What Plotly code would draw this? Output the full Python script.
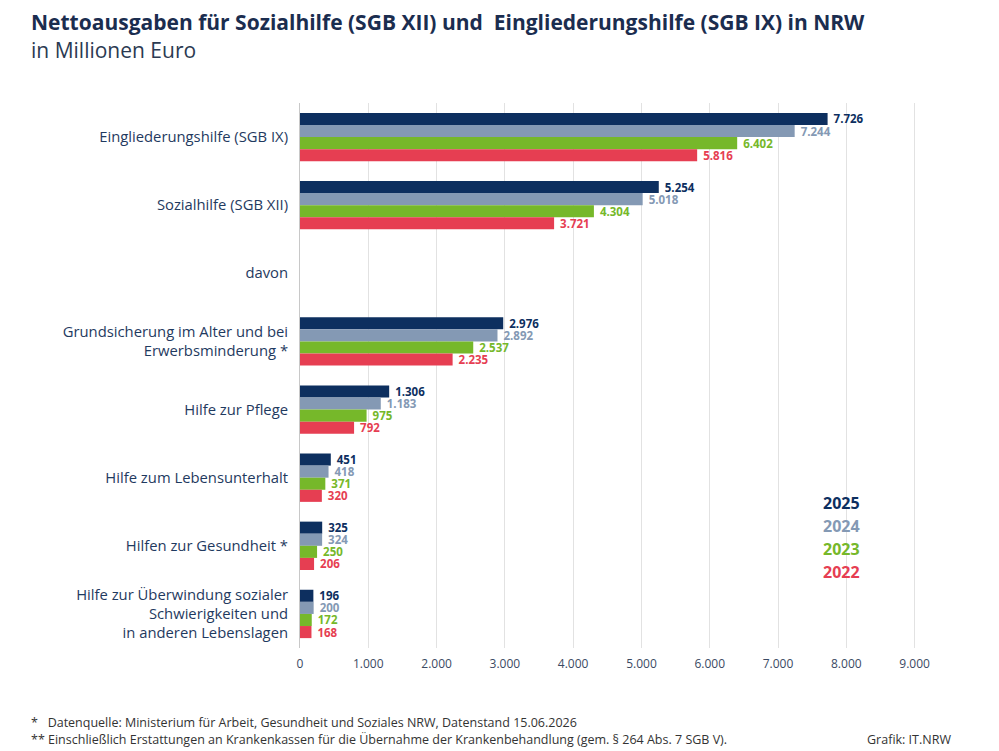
import plotly.graph_objects as go

categories = [
    "Eingliederungshilfe (SGB IX)",
    "Sozialhilfe (SGB XII)",
    "davon",
    "Grundsicherung im Alter und bei<br>Erwerbsminderung *",
    "Hilfe zur Pflege",
    "Hilfe zum Lebensunterhalt",
    "Hilfen zur Gesundheit *",
    "Hilfe zur Überwindung sozialer<br>Schwierigkeiten und<br>in anderen Lebenslagen",
]
years = ["2025", "2024", "2023", "2022"]
values_2025 = [7726, 5254, None, 2976, 1306, 451, 325, 196]
values_2024 = [7244, 5018, None, 2892, 1183, 418, 324, 200]
values_2023 = [6402, 4304, None, 2537, 975, 371, 250, 172]
values_2022 = [5816, 3721, None, 2235, 792, 320, 206, 168]
series = [values_2025, values_2024, values_2023, values_2022]
colors = ["#0d2f5f", "#8499b4", "#76b82a", "#e63e52"]
x_ticks = [0, 1000, 2000, 3000, 4000, 5000, 6000, 7000, 8000, 9000]


def de(v):
    return "" if v is None else f"{v:,}".replace(",", ".")


FONT = "Open Sans"
fig = go.Figure()
for yr, vals, col in zip(years, series, colors):
    fig.add_trace(go.Bar(
        y=categories, x=vals, orientation="h", name=yr,
        marker=dict(color=col, line=dict(width=0)),
        text=["" if v is None else "\u00a0" + de(v) for v in vals], textposition="outside",
        textfont=dict(family=FONT, size=11.5, color=col, weight="bold"),
        constraintext="none", cliponaxis=False,
        hoverinfo="skip",
    ))

# helpers: page pixel -> paper coords (plot area spans x 300..918, y 103..648 on the page)
def px(X):
    return (X - 300) / 618


def py(Y):
    return (648 - Y) / 545


for i, (yr, col) in enumerate(zip(years, colors)):
    fig.add_annotation(
        xref="paper", yref="paper", x=px(862), y=py(503 + 23 * i),
        text=f"<b>{yr}</b>", showarrow=False, xanchor="right", yanchor="middle",
        font=dict(family=FONT, size=16, color=col),
    )

fig.add_annotation(xref="paper", yref="paper", x=px(29), y=py(22),
                   text="<b>Nettoausgaben für Sozialhilfe (SGB XII) und  Eingliederungshilfe (SGB IX) in NRW</b>",
                   showarrow=False, xanchor="left", yanchor="middle",
                   font=dict(family=FONT, size=21, color="#1b2d4f"))
fig.add_annotation(xref="paper", yref="paper", x=px(29), y=py(50),
                   text="in Millionen Euro", showarrow=False, xanchor="left", yanchor="middle",
                   font=dict(family=FONT, size=21, color="#2b3a52"))
fig.add_annotation(xref="paper", yref="paper", x=px(29), y=py(722),
                   text="*   Datenquelle: Ministerium für Arbeit, Gesundheit und Soziales NRW, Datenstand 15.06.2026",
                   showarrow=False, xanchor="left", yanchor="middle",
                   font=dict(family=FONT, size=12.5, color="#333333"))
fig.add_annotation(xref="paper", yref="paper", x=px(29), y=py(739),
                   text="** Einschließlich Erstattungen an Krankenkassen für die Übernahme der Krankenbehandlung (gem. § 264 Abs. 7 SGB V).",
                   showarrow=False, xanchor="left", yanchor="middle",
                   font=dict(family=FONT, size=12.5, color="#333333"))
fig.add_annotation(xref="paper", yref="paper", x=px(953), y=py(739),
                   text="Grafik: IT.NRW", showarrow=False, xanchor="right", yanchor="middle",
                   font=dict(family=FONT, size=12.5, color="#333333"))

fig.update_layout(
    width=991, height=743,
    margin=dict(l=292, r=81, t=95, b=103),
    paper_bgcolor="white", plot_bgcolor="white",
    barmode="group", bargap=0.29, bargroupgap=0,
    showlegend=False,
    font=dict(family=FONT),
)
fig.update_xaxes(
    range=[0, 9050], tickvals=x_ticks, ticktext=[de(v) for v in x_ticks],
    showgrid=True, gridcolor="#e2e2e2", gridwidth=1, zeroline=False,
    tickfont=dict(family=FONT, size=12, color="#3b4a63"), ticks="", ticklen=0,
    ticklabelstandoff=7,
    showline=False, fixedrange=True,
)
fig.update_yaxes(
    autorange="reversed", categoryorder="array", categoryarray=categories,
    tickfont=dict(family=FONT, size=14.8, color="#1f3a60"),
    ticks="outside", ticklen=8, tickcolor="rgba(0,0,0,0)",
    showline=True, linecolor="#c8c8c8", linewidth=1, showgrid=False,
    fixedrange=True,
)
fig.write_html("out.html")
